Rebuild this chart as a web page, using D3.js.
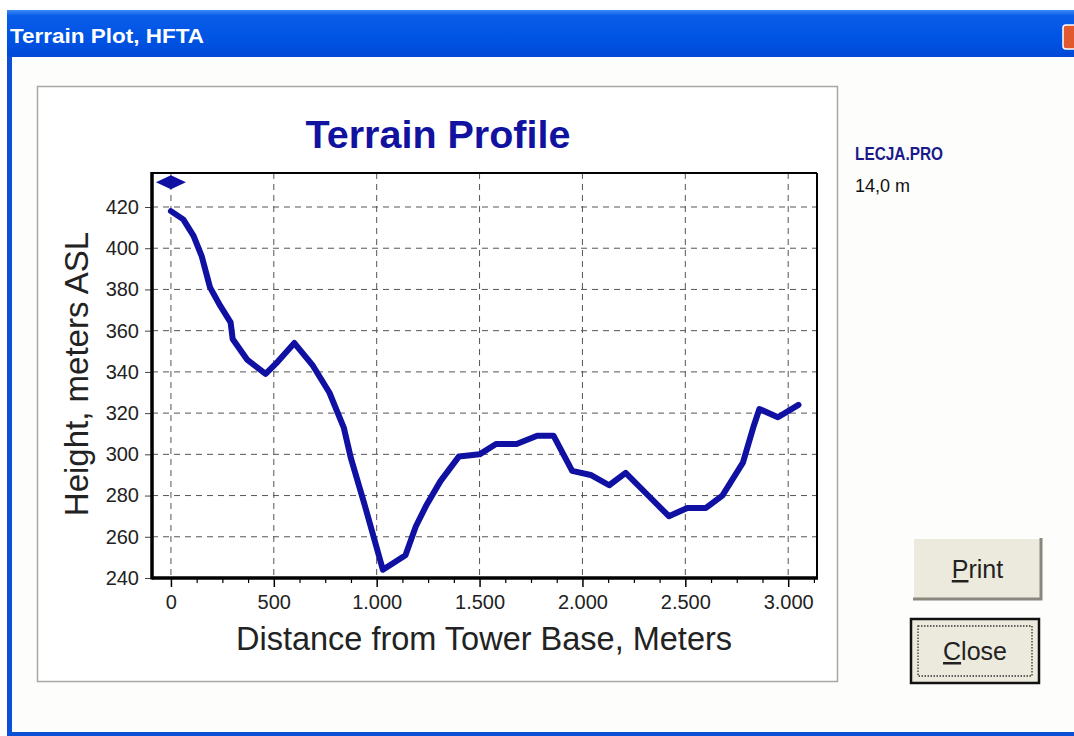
<!DOCTYPE html>
<html><head><meta charset="utf-8">
<script src="https://cdn.jsdelivr.net/npm/d3@7"></script>
<style>
html,body{margin:0;padding:0;background:#fff;overflow:hidden}
svg{display:block}
</style></head>
<body>
<svg id="c" width="1074" height="736"></svg>
<script>
// ---- data ----
const windowTitle = "Terrain Plot, HFTA";
const chartTitle = "Terrain Profile";
const xAxisTitle = "Distance from Tower Base, Meters";
const yAxisTitle = "Height, meters ASL";
const fileName = "LECJA.PRO";
const towerLabel = "14,0 m";
const distances = [0, 60, 110, 150, 190, 240, 290, 300, 370, 460, 510, 600, 690, 770, 840, 875, 940, 1030, 1140, 1190, 1240, 1310, 1400, 1500, 1580, 1680, 1780, 1860, 1950, 2040, 2130, 2210, 2310, 2420, 2510, 2600, 2680, 2780, 2830, 2860, 2950, 3050];
const heights   = [418, 414, 406, 396, 381, 372, 364, 356, 346, 339, 344, 354, 343, 330, 313, 298, 276, 244, 251, 265, 275, 287, 299, 300, 305, 305, 309, 309, 292, 290, 285, 291, 281, 270, 274, 274, 280, 296, 313, 322, 318, 324];
const towerTop = [0, 432];
const xTicks = [0, 500, 1000, 1500, 2000, 2500, 3000];
const xMinorTicks = [125, 250, 375, 625, 750, 875, 1125, 1250, 1375, 1625, 1750, 1875, 2125, 2250, 2375, 2625, 2750, 2875, 3125];
const yTicks = [240, 260, 280, 300, 320, 340, 360, 380, 400, 420];
const buttons = ["Print", "Close"];

const svg = d3.select("#c");
const FONT = "'Liberation Sans', Arial, sans-serif";

// ---- window chrome ----
const defs = svg.append("defs");
const g1 = defs.append("linearGradient").attr("id","tb").attr("x1",0).attr("y1",0).attr("x2",0).attr("y2",1);
g1.append("stop").attr("offset","0%").attr("stop-color","#3d8bf5");
g1.append("stop").attr("offset","12%").attr("stop-color","#0a5de8");
g1.append("stop").attr("offset","60%").attr("stop-color","#0054e3");
g1.append("stop").attr("offset","100%").attr("stop-color","#0048d8");

svg.append("rect").attr("x",0).attr("y",0).attr("width",1074).attr("height",736).attr("fill","#ffffff");
svg.append("rect").attr("x",7).attr("y",10).attr("width",1067).attr("height",726).attr("fill","#0a4fd6");
svg.append("rect").attr("x",7).attr("y",10).attr("width",1067).attr("height",47).attr("fill","url(#tb)");
svg.append("rect").attr("x",12).attr("y",57).attr("width",1062).attr("height",675).attr("fill","#fdfdfc");
svg.append("text").attr("x",10).attr("y",43).attr("fill","#fff").attr("font-family",FONT)
  .attr("font-weight","bold").attr("font-size",21).attr("textLength",194).attr("lengthAdjust","spacingAndGlyphs").text(windowTitle);
// close X
svg.append("rect").attr("x",1063).attr("y",25).attr("width",16).attr("height",24).attr("rx",3)
  .attr("fill","#e2582f").attr("stroke","#fff").attr("stroke-width",1.5);

// panel frame
svg.append("rect").attr("x",37.5).attr("y",86.5).attr("width",800).attr("height",595)
  .attr("fill","#ffffff").attr("stroke","#a9a8a4").attr("stroke-width",1.5);

// ---- scales ----
const x = d3.scaleLinear().domain([-92, 3140]).range([152, 817]);
const y = d3.scaleLinear().domain([240, 436.5]).range([578, 173]);
const loc = d3.formatLocale({decimal: ",", thousands: ".", grouping: [3], currency: ["", ""]});
const fmt = loc.format(",");

const plot = svg.append("g");
plot.append("rect").attr("x",x.range()[0]).attr("y",y.range()[1])
  .attr("width",x.range()[1]-x.range()[0]).attr("height",y.range()[0]-y.range()[1]).attr("fill","#fff");

// grid
plot.append("g").selectAll("line").data(xTicks).join("line")
  .attr("x1",d=>x(d)).attr("x2",d=>x(d)).attr("y1",y.range()[1]).attr("y2",y.range()[0])
  .attr("stroke","#555").attr("stroke-width",1).attr("stroke-dasharray","6,5");
plot.append("g").selectAll("line").data(yTicks).join("line")
  .attr("x1",x.range()[0]).attr("x2",x.range()[1]).attr("y1",d=>y(d)).attr("y2",d=>y(d))
  .attr("stroke","#555").attr("stroke-width",1).attr("stroke-dasharray","6,5");

// axes via d3
const xAxis = d3.axisBottom(x).tickValues(xTicks).tickFormat(fmt).tickSize(9).tickPadding(8);
const gx = plot.append("g").attr("transform",`translate(0,${y.range()[0]})`).call(xAxis);
gx.select(".domain").remove();
gx.selectAll(".tick line").attr("stroke","#000").attr("stroke-width",1.5);
gx.selectAll(".tick text").attr("font-family",FONT).attr("font-size",20).attr("fill","#222");
const xMinor = d3.axisBottom(x).tickValues(xMinorTicks).tickFormat("").tickSize(5);
const gxm = plot.append("g").attr("transform",`translate(0,${y.range()[0]})`).call(xMinor);
gxm.select(".domain").remove();
gxm.selectAll(".tick line").attr("stroke","#000").attr("stroke-width",1.2);

const yAxis = d3.axisLeft(y).tickValues(yTicks).tickSize(7).tickPadding(6);
const gy = plot.append("g").attr("transform",`translate(${x.range()[0]},0)`).call(yAxis);
gy.select(".domain").remove();
gy.selectAll(".tick line").attr("stroke","#444").attr("stroke-width",1);
gy.selectAll(".tick text").attr("font-family",FONT).attr("font-size",20).attr("fill","#222");

// plot frame
plot.append("line").attr("x1",x.range()[0]).attr("x2",x.range()[1]).attr("y1",y.range()[1]).attr("y2",y.range()[1]).attr("stroke","#000").attr("stroke-width",2);
plot.append("line").attr("x1",x.range()[1]).attr("x2",x.range()[1]).attr("y1",y.range()[1]).attr("y2",y.range()[0]).attr("stroke","#000").attr("stroke-width",2);
plot.append("line").attr("x1",x.range()[0]).attr("x2",x.range()[0]).attr("y1",y.range()[1]-1).attr("y2",y.range()[0]+1.5).attr("stroke","#000").attr("stroke-width",3.5);
plot.append("line").attr("x1",x.range()[0]).attr("x2",x.range()[1]+1).attr("y1",y.range()[0]).attr("y2",y.range()[0]).attr("stroke","#000").attr("stroke-width",3.5);

// line
const pts = distances.map((d,i)=>[d, heights[i]]);
plot.append("path").datum(pts)
  .attr("d", d3.line().x(d=>x(d[0])).y(d=>y(d[1])))
  .attr("fill","none").attr("stroke","#1010a2").attr("stroke-width",6)
  .attr("stroke-linejoin","round").attr("stroke-linecap","round");

// tower marker (diamond)
const tx = x(towerTop[0]), ty = y(towerTop[1]);
plot.append("path").attr("d",`M${tx-15},${ty}L${tx},${ty-7}L${tx+15},${ty}L${tx},${ty+7}Z`).attr("fill","#1010a2");

// titles
svg.append("text").attr("x",438).attr("y",148).attr("text-anchor","middle")
  .attr("font-family",FONT).attr("font-weight","bold").attr("font-size",39.5).attr("fill","#1212a0").text(chartTitle);
svg.append("text").attr("x",484).attr("y",650).attr("text-anchor","middle")
  .attr("font-family",FONT).attr("font-size",32.5).attr("fill","#222").text(xAxisTitle);
svg.append("text").attr("transform","translate(88,374) rotate(-90)").attr("text-anchor","middle")
  .attr("font-family",FONT).attr("font-size",33).attr("fill","#222").text(yAxisTitle);

// side info
svg.append("text").attr("x",855).attr("y",160).attr("font-family",FONT).attr("font-weight","bold")
  .attr("font-size",18).attr("textLength",88).attr("lengthAdjust","spacingAndGlyphs").attr("fill","#1a1a8a").text(fileName);
svg.append("text").attr("x",855).attr("y",192).attr("font-family",FONT)
  .attr("font-size",18).attr("fill","#111").text(towerLabel);

// buttons
const btnBoxes = [[913,538,129,62],[910,618,130,66]];
buttons.forEach((b,i)=>{
  const [bx,by,bw,bh] = btnBoxes[i];
  const g = svg.append("g");
  g.append("rect").attr("x",bx).attr("y",by).attr("width",bw).attr("height",bh).attr("fill","#ece9dd");
  if (i===0){
    g.append("path").attr("d",`M${bx},${by+bh}V${by}H${bx+bw}`).attr("fill","none").attr("stroke","#fff").attr("stroke-width",2);
    g.append("path").attr("d",`M${bx},${by+bh-1}H${bx+bw-1}V${by}`).attr("fill","none").attr("stroke","#8a887e").attr("stroke-width",3);
  } else {
    g.append("rect").attr("x",bx+1).attr("y",by+1).attr("width",bw-2).attr("height",bh-2).attr("fill","none").attr("stroke","#111").attr("stroke-width",2.5);
    g.append("rect").attr("x",bx+8).attr("y",by+8).attr("width",bw-16).attr("height",bh-16).attr("fill","none").attr("stroke","#333").attr("stroke-width",1.3).attr("stroke-dasharray","1.5,1.5");
  }
  const t = g.append("text").attr("x",bx+bw/2).attr("y",by+bh/2+9).attr("text-anchor","middle")
    .attr("font-family",FONT).attr("font-size",25).attr("fill","#222");
  t.append("tspan").attr("text-decoration","underline").text(b[0]);
  t.append("tspan").text(b.slice(1));
});
</script>
</body></html>
